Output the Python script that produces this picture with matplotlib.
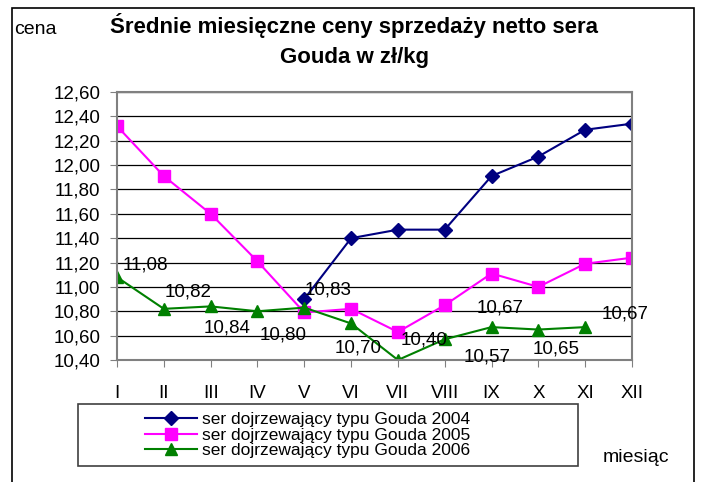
import numpy as np
import matplotlib
matplotlib.use("Agg")
import matplotlib.pyplot as plt
from matplotlib.patches import Rectangle
from matplotlib.ticker import FuncFormatter

plt.rcParams['font.family'] = ['Liberation Sans', 'DejaVu Sans']

# data
months = ["I", "II", "III", "IV", "V", "VI", "VII", "VIII", "IX", "X", "XI", "XII"]
gouda_2004 = [None, None, None, None, 10.90, 11.40, 11.47, 11.47, 11.91, 12.07, 12.29, 12.34]
gouda_2005 = [12.32, 11.91, 11.60, 11.21, 10.79, 10.82, 10.63, 10.85, 11.11, 11.00, 11.19, 11.24]
gouda_2006 = [11.08, 10.82, 10.84, 10.80, 10.83, 10.70, 10.40, 10.57, 10.67, 10.65, 10.67, None]
series_names = ["ser dojrzewający typu Gouda 2004",
                "ser dojrzewający typu Gouda 2005",
                "ser dojrzewający typu Gouda 2006"]

# label offsets (pixels) for the 2006 data labels, as placed in the original
label_offsets = [(28, 12), (24, 17), (16, -22), (26, -24), (24, 18), (7, -25),
                 (26, 20), (42, -18), (9, 19), (18, -19), (40, 13)]


def to_arr(vals):
    return np.array([np.nan if v is None else v for v in vals], dtype=float)


fig = plt.figure(figsize=(7.01, 4.82), dpi=100)
W, H = 701, 482
ax = fig.add_axes([117 / W, 1 - 360 / H, (632 - 117) / W, (360 - 92) / H])

x = np.arange(len(months))
ax.plot(x, to_arr(gouda_2004), color="#000080", marker="D", markersize=7, lw=1.5,
        label=series_names[0])
ax.plot(x, to_arr(gouda_2005), color="#FF00FF", marker="s", markersize=8, lw=1.5,
        label=series_names[1])
ax.plot(x, to_arr(gouda_2006), color="#008000", marker="^", markersize=9, lw=1.5,
        label=series_names[2])

for i, v in enumerate(gouda_2006):
    if v is None:
        continue
    dx, dy = label_offsets[i]
    ax.annotate(f"{v:.2f}".replace(".", ","), (i, v), xytext=(dx, dy),
                textcoords="offset pixels", ha="center", va="center", fontsize=13.5,
                annotation_clip=False)

ax.set_xlim(0, 11)
ax.set_ylim(10.40, 12.60)
ax.set_yticks(np.arange(10.40, 12.61, 0.20))
ax.yaxis.set_major_formatter(FuncFormatter(lambda v, p: f"{v:.2f}".replace(".", ",")))
ax.set_xticks(x)
ax.set_xticklabels(months)
ax.tick_params(axis="y", length=5, pad=7, labelsize=13.5, color="#808080")
ax.tick_params(axis="x", length=5, pad=13, labelsize=13.5, color="#808080")
ax.yaxis.grid(True, color="black", lw=0.9)
ax.set_axisbelow(True)
for s in ax.spines.values():
    s.set_color("#808080")
    s.set_linewidth(1.5)

# outer frame
fig.patches.append(Rectangle((12 / W, -0.05), (694 - 12) / W, 1.05 - 8 / H,
                             transform=fig.transFigure, fill=False, ec="black", lw=1.2))
# legend frame
fig.patches.append(Rectangle((78 / W, 1 - 466 / H), 500 / W, 62 / H,
                             transform=fig.transFigure, fill=False, ec="#404040", lw=1.2))

fig.legend(loc="center left", bbox_to_anchor=(145 / W, 1 - 435 / H), frameon=False,
           fontsize=12.5, borderpad=0, borderaxespad=0, handlelength=3.0,
           handletextpad=0.3, labelspacing=0.0)

fig.text(354 / W, 1 - 25 / H, "Średnie miesięczne ceny sprzedaży netto sera",
         ha="center", va="center", fontsize=16, fontweight="bold")
fig.text(354 / W, 1 - 58 / H, "Gouda w zł/kg",
         ha="center", va="center", fontsize=16, fontweight="bold")
fig.text(14 / W, 1 - 30 / H, "cena", ha="left", va="center", fontsize=14)
fig.text(603 / W, 1 - 458 / H, "miesiąc", ha="left", va="center", fontsize=14)

fig.savefig("out.png", dpi=100)
